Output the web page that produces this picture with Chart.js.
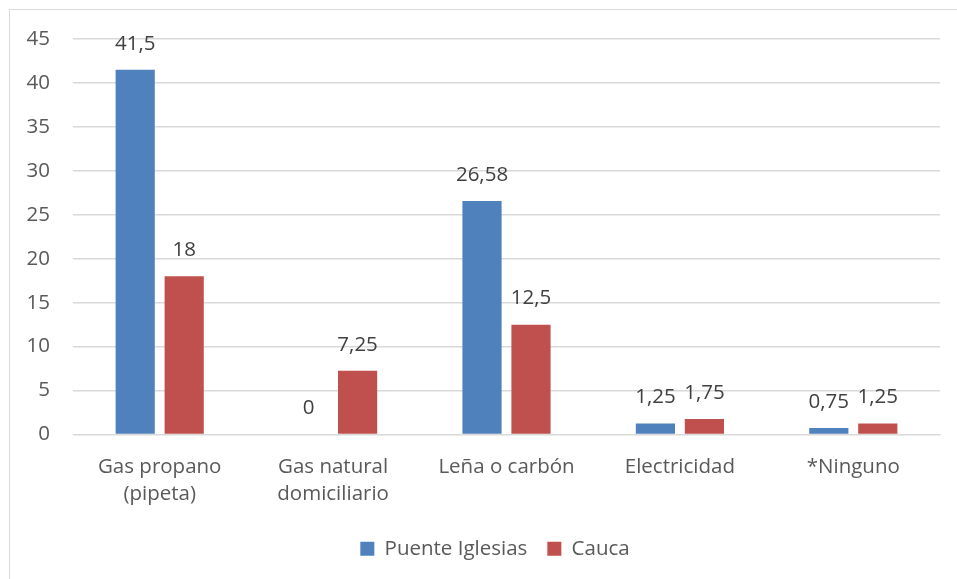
<!DOCTYPE html>
<html>
<head>
<meta charset="utf-8">
<script src="https://cdn.jsdelivr.net/npm/chart.js@4.4.1/dist/chart.umd.min.js"></script>
<style>
  body { margin: 0; background: #fff; }
  .frame { position: absolute; left: 9px; top: 9px; width: 960px; height: 590px; border: 1px solid #d9d9d9; }
  .wrap { position: absolute; left: 0; top: 0; width: 957px; height: 579px; }
</style>
</head>
<body>
<div class="frame"></div>
<div class="wrap"><canvas id="chart"></canvas></div>
<script>
const categories = [['Gas propano', '(pipeta)'], ['Gas natural', 'domiciliario'], 'Leña o carbón', 'Electricidad', '*Ninguno'];
const puenteIglesias = [41.5, 0, 26.58, 1.25, 0.75];
const cauca = [18, 7.25, 12.5, 1.75, 1.25];
const yTicks = [0, 5, 10, 15, 20, 25, 30, 35, 40, 45];

const FONT = '"Open Sans", Lato, sans-serif';
const TEXT = '#595959';

// etiquetas de valor encima de cada barra, con coma decimal
const valueLabels = {
  id: 'valueLabels',
  afterDatasetsDraw(chart) {
    const ctx = chart.ctx;
    ctx.save();
    ctx.font = '20.5px ' + FONT;
    ctx.fillStyle = '#404040';
    ctx.textAlign = 'center';
    ctx.textBaseline = 'middle';
    chart.data.datasets.forEach((ds, i) => {
      chart.getDatasetMeta(i).data.forEach((bar, j) => {
        const txt = String(ds.data[j]).replace('.', ',');
        ctx.fillText(txt, bar.x, bar.y - 26);
      });
    });
    ctx.restore();
  }
};

// la leyenda del original está algo desplazada a la derecha
const shiftLegend = {
  id: 'shiftLegend',
  afterLayout(chart) {
    chart.legend.left += 25;
    chart.legend.right += 25;
  }
};

const ctx = document.getElementById('chart').getContext('2d');
const chart = new Chart(ctx, {
  type: 'bar',
  data: {
    labels: categories,
    datasets: [{
      label: 'Puente Iglesias',
      data: puenteIglesias,
      backgroundColor: '#4F81BD',
      categoryPercentage: 0.565,
      barPercentage: 0.8
    }, {
      label: 'Cauca',
      data: cauca,
      backgroundColor: '#C0504D',
      categoryPercentage: 0.565,
      barPercentage: 0.8
    }]
  },
  options: {
    responsive: true,
    maintainAspectRatio: false,
    animation: false,
    layout: { padding: { top: 39, right: 17, bottom: 10, left: 0 } },
    plugins: {
      legend: {
        position: 'bottom',
        labels: {
          color: TEXT,
          font: { family: FONT, size: 20.5 },
          boxWidth: 14,
          boxHeight: 14,
          padding: 20
        }
      },
      tooltip: { enabled: false }
    },
    scales: {
      x: {
        grid: { display: false },
        border: { color: '#d9d9d9' },
        ticks: {
          color: TEXT,
          font: { family: FONT, size: 20.5, lineHeight: 1.32 },
          maxRotation: 0,
          padding: 11
        },
        afterFit(scale) { scale.height = 84; }
      },
      y: {
        min: 0,
        max: 45,
        afterBuildTicks(scale) { scale.ticks = yTicks.map(v => ({ value: v })); },
        grid: { color: '#d9d9d9', lineWidth: 1.5, drawTicks: false },
        border: { display: false },
        ticks: {
          color: TEXT,
          font: { family: FONT, size: 20.5 },
          padding: 23
        },
        afterFit(scale) { scale.width = 73; }
      }
    }
  },
  plugins: [valueLabels, shiftLegend]
});
</script>
</body>
</html>
